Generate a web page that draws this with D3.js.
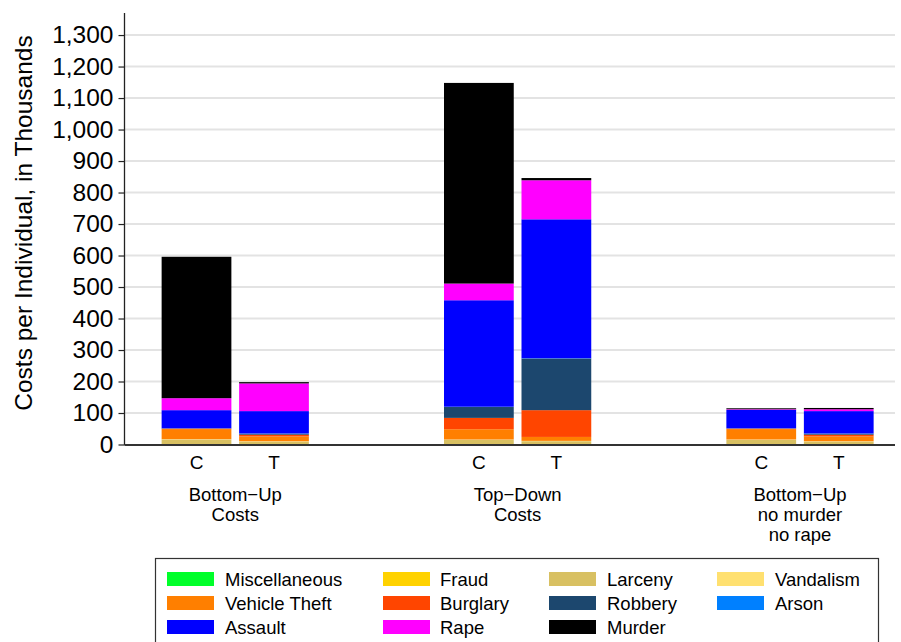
<!DOCTYPE html>
<html>
<head>
<meta charset="utf-8">
<script src="https://cdn.jsdelivr.net/npm/d3@7"></script>
<style>
  html, body { margin: 0; padding: 0; background: #fff; }
  svg { display: block; font-family: "Liberation Sans", Arial, Helvetica, sans-serif; }
</style>
</head>
<body>
<svg id="chart" width="901" height="642"></svg>
<script>
// ---- data ----
const groups = ["Bottom−Up Costs", "Top−Down Costs", "Bottom−Up no murder no rape"];
const groupLabelLines = [["Bottom−Up", "Costs"], ["Top−Down", "Costs"], ["Bottom−Up", "no murder", "no rape"]];
const arms = ["C", "T"];
const crimes = ["Miscellaneous", "Fraud", "Larceny", "Vandalism", "Vehicle Theft", "Burglary", "Robbery", "Arson", "Assault", "Rape", "Murder"];
const crimeColors = ["#00ff2a", "#ffd200", "#d8c062", "#ffe070", "#ff7f00", "#ff4500", "#1c476e", "#0080ff", "#0000ff", "#ff00ff", "#000000"];
// values in thousands, per bar, in crime order
const buC   = [0.5, 1, 14.5, 1, 32, 1.5, 0.5, 0.5, 57.5, 38, 449];
const buT   = [0.5, 1, 8, 1, 15.5, 5, 3, 1, 71, 88, 4];
const tdC   = [0.5, 1, 14, 0.5, 32.5, 36, 34.5, 1, 338, 53, 637];
const tdT   = [0.5, 1, 9, 1, 12.5, 85, 164, 1, 441, 124, 7];
const bunmC = [0.5, 1, 13.5, 1, 33, 1.5, 0.5, 0.5, 58.5, 2, 3];
const bunmT = [0.5, 1, 8, 1, 15.5, 5, 3, 1, 71, 6, 4];
const yTicks = [0, 100, 200, 300, 400, 500, 600, 700, 800, 900, 1000, 1100, 1200, 1300];
const yTitle = "Costs per Individual, in Thousands";

// ---- build rows ----
const barValues = [[buC, buT], [tdC, tdT], [bunmC, bunmT]];
const rows = [];
groups.forEach((g, gi) => arms.forEach((a, ai) => {
  const row = { group: g, arm: a };
  crimes.forEach((c, ci) => row[c] = barValues[gi][ai][ci]);
  rows.push(row);
}));

const svg = d3.select("#chart");
const x0 = d3.scalePoint().domain(groups).range([235.25, 800]);
const x1 = d3.scaleBand().domain(arms).range([-77.5, 77.5]).paddingInner(0.1).paddingOuter(0.05);
const y = d3.scaleLinear().domain([0, 1370]).range([444.5, 13]);
const color = d3.scaleOrdinal().domain(crimes).range(crimeColors);

const axisX = 124.5, rightX = 895;

// gridlines
svg.append("g").selectAll("line").data(yTicks.filter(d => d > 0)).join("line")
  .attr("x1", axisX).attr("x2", rightX)
  .attr("y1", d => y(d)).attr("y2", d => y(d))
  .attr("stroke", "#e3e3e3").attr("stroke-width", 2);

// bars
const stack = d3.stack().keys(crimes);
const series = stack(rows);
svg.append("g").selectAll("g").data(series).join("g")
  .attr("fill", d => color(d.key))
  .selectAll("rect").data(d => d).join("rect")
  .attr("x", d => x0(d.data.group) + x1(d.data.arm))
  .attr("width", x1.bandwidth())
  .attr("y", d => y(d[1]))
  .attr("height", d => Math.max(0, y(d[0]) - y(d[1])));

// y axis
const yAxis = d3.axisLeft(y).tickValues(yTicks).tickSize(6).tickPadding(5)
  .tickFormat(d3.format(","));
const gy = svg.append("g").attr("transform", `translate(${axisX},0)`).call(yAxis);
gy.select(".domain").remove();
gy.selectAll(".tick line").attr("stroke", "#222").attr("stroke-width", 1.2);
gy.selectAll(".tick text").attr("font-size", 24.5).attr("fill", "#000")
  .attr("font-family", "Liberation Sans, Arial, sans-serif");
svg.append("line").attr("x1", axisX).attr("x2", axisX).attr("y1", 13).attr("y2", 445)
  .attr("stroke", "#222").attr("stroke-width", 1.3);

// x axis line
svg.append("line").attr("x1", axisX).attr("x2", rightX).attr("y1", 445).attr("y2", 445)
  .attr("stroke", "#333").attr("stroke-width", 2);

// arm labels
svg.append("g").selectAll("text").data(rows).join("text")
  .attr("x", d => x0(d.group) + x1(d.arm) + x1.bandwidth() / 2)
  .attr("y", 469)
  .attr("text-anchor", "middle").attr("font-size", 19)
  .text(d => d.arm);

// group labels
groups.forEach((g, gi) => {
  svg.append("text").attr("x", x0(g)).attr("y", 501)
    .attr("text-anchor", "middle").attr("font-size", 18.5)
    .selectAll("tspan").data(groupLabelLines[gi]).join("tspan")
    .attr("x", x0(g)).attr("dy", (d, i) => i === 0 ? 0 : 20)
    .text(d => d);
});

// y title
svg.append("text").attr("transform", "translate(32,223) rotate(-90)")
  .attr("text-anchor", "middle").attr("font-size", 24.5).text(yTitle);

// legend
svg.append("rect").attr("x", 155.5).attr("y", 558.5).attr("width", 723).attr("height", 100)
  .attr("fill", "#fff").attr("stroke", "#333").attr("stroke-width", 1.2);
const colSw = [167, 383, 549, 717], colTx = [225, 440, 607, 775], rowY = [579, 603, 627];
const leg = svg.append("g").selectAll("g").data(crimes).join("g")
  .attr("transform", (d, i) => `translate(${colSw[i % 4]},${rowY[Math.floor(i / 4)]})`);
leg.append("rect").attr("x", 0).attr("y", -7).attr("width", 47).attr("height", 14)
  .attr("fill", d => color(d));
leg.append("text").attr("x", (d, i) => colTx[i % 4] - colSw[i % 4]).attr("y", 6.5)
  .attr("font-size", 18.5).text(d => d);
</script>
</body>
</html>
